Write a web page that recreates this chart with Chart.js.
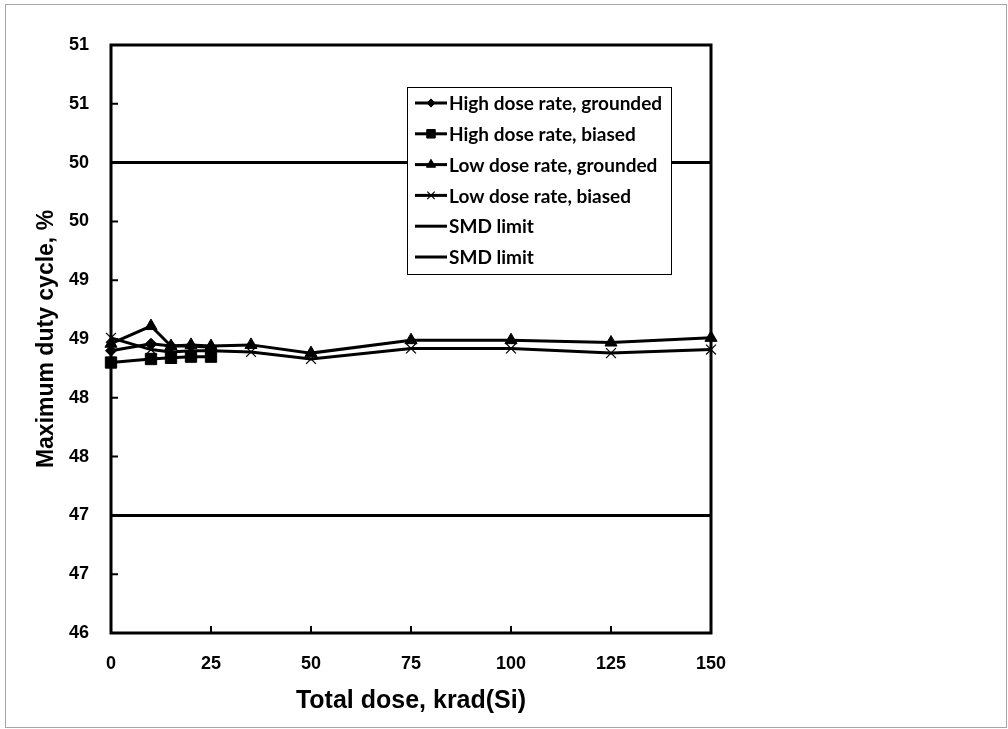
<!DOCTYPE html>
<html lang="en">
<head>
    <meta charset="UTF-8">
    <title>Maximum duty cycle vs total dose</title>
    <script src="https://cdn.jsdelivr.net/npm/chart.js"></script>
    <style>
        body { margin: 0; background: #fff; }
        #marco { position: absolute; left: 5px; top: 4px; width: 1000px; height: 722px; border: 1px solid #a6a6a6; }
        canvas { position: absolute; left: 0; top: 0; }
    </style>
</head>
<body>
    <div id="marco"></div>
    <canvas id="grafico" width="1008" height="729"></canvas>

    <script>
        // Dosis (krad(Si)) de cada serie
        const dosisAlta = [0, 10, 15, 20, 25];
        const dosisBaja = [0, 10, 15, 20, 25, 35, 50, 75, 100, 125, 150];

        // Ciclo de trabajo máximo (%)
        const altaAterrizado = [48.40, 48.46, 48.44, 48.44, 48.43];
        const altaPolarizado = [48.30, 48.33, 48.34, 48.35, 48.35];
        const bajaAterrizado = [48.46, 48.61, 48.44, 48.45, 48.44, 48.45, 48.38, 48.49, 48.49, 48.47, 48.51];
        const bajaPolarizado = [48.51, 48.41, 48.39, 48.40, 48.40, 48.39, 48.33, 48.42, 48.42, 48.38, 48.41];

        // Límites SMD
        const limiteInferior = 47;
        const limiteSuperior = 50;
        const rangoDosis = [0, 150];

        // Etiquetas de los ejes (redondeadas a entero como en la hoja original)
        const etiquetasY = ['46', '47', '47', '48', '48', '49', '49', '50', '50', '51', '51'];
        const etiquetasX = ['0', '25', '50', '75', '100', '125', '150'];

        const puntos = (xs, ys) => xs.map((x, i) => ({ x: x, y: ys[i] }));
        const linea = v => rangoDosis.map(x => ({ x: x, y: v }));

        function serie(label, data, estilo, radio, borde) {
            return {
                label: label,
                data: data,
                borderColor: '#000',
                backgroundColor: '#000',
                borderWidth: 3,
                pointStyle: estilo,
                pointRadius: radio,
                pointBorderWidth: borde,
                pointBorderColor: '#000',
                pointBackgroundColor: '#000',
                tension: 0,
                clip: false
            };
        }

        // Marco del área, marcas hacia dentro y leyenda
        const marcoYLeyenda = {
            id: 'marcoYLeyenda',
            afterDatasetsDraw(chart) {
                const ctx = chart.ctx;
                const a = chart.chartArea;
                const ex = chart.scales.x;
                const ey = chart.scales.y;
                ctx.save();
                ctx.strokeStyle = '#000';
                ctx.fillStyle = '#000';
                ctx.lineWidth = 3;
                ctx.strokeRect(a.left, a.top, a.right - a.left, a.bottom - a.top);
                ctx.lineWidth = 2;
                ctx.beginPath();
                ey.ticks.forEach(t => {
                    const py = ey.getPixelForValue(t.value);
                    ctx.moveTo(a.left, py);
                    ctx.lineTo(a.left + 7, py);
                });
                ex.ticks.forEach(t => {
                    const px = ex.getPixelForValue(t.value);
                    ctx.moveTo(px, a.bottom);
                    ctx.lineTo(px, a.bottom - 7);
                });
                ctx.stroke();

                // Leyenda
                const bx = 407, by = 87, bw = 264, bh = 187;
                ctx.fillStyle = '#fff';
                ctx.fillRect(bx, by, bw, bh);
                ctx.strokeStyle = '#000';
                ctx.lineWidth = 1;
                ctx.strokeRect(bx + 0.5, by + 0.5, bw, bh);
                ctx.font = "bold 19px 'Lato', 'Open Sans', sans-serif";
                ctx.textBaseline = 'middle';
                ctx.textAlign = 'left';
                chart.data.datasets.forEach((ds, i) => {
                    const cy = 103 + i * 30.8;
                    ctx.strokeStyle = '#000';
                    ctx.fillStyle = '#000';
                    ctx.lineWidth = ds.borderWidth;
                    ctx.beginPath();
                    ctx.moveTo(415, cy);
                    ctx.lineTo(447, cy);
                    ctx.stroke();
                    if (ds.pointRadius > 0) {
                        ctx.lineWidth = ds.pointBorderWidth;
                        Chart.helpers.drawPoint(ctx, {
                            pointStyle: ds.pointStyle,
                            radius: ds.pointRadius * 0.75,
                            borderWidth: ds.pointBorderWidth,
                            rotation: 0
                        }, 431, cy);
                    }
                    ctx.fillStyle = '#000';
                    ctx.fillText(ds.label, 449, cy + 1);
                });
                ctx.restore();
            }
        };

        Chart.defaults.font.family = "'Liberation Sans', Arial, sans-serif";
        Chart.defaults.color = '#000';

        const ctx = document.getElementById('grafico').getContext('2d');
        const chart = new Chart(ctx, {
            type: 'line',
            data: {
                datasets: [
                    serie('High dose rate, grounded', puntos(dosisAlta, altaAterrizado), 'rectRot', 5.5, 1),
                    serie('High dose rate, biased', puntos(dosisAlta, altaPolarizado), 'rect', 8, 1),
                    serie('Low dose rate, grounded', puntos(dosisBaja, bajaAterrizado), 'triangle', 7, 1),
                    serie('Low dose rate, biased', puntos(dosisBaja, bajaPolarizado), 'crossRot', 7, 1.2),
                    serie('SMD limit', linea(limiteInferior), false, 0, 0),
                    serie('SMD limit', linea(limiteSuperior), false, 0, 0)
                ]
            },
            options: {
                responsive: false,
                animation: false,
                layout: { padding: { left: 0, top: 45, right: 297, bottom: 0 } },
                plugins: {
                    legend: { display: false },
                    tooltip: { enabled: false }
                },
                scales: {
                    x: {
                        type: 'linear',
                        min: 0,
                        max: 150,
                        grid: { display: false, drawTicks: false },
                        border: { display: false },
                        ticks: {
                            stepSize: 25,
                            padding: 20,
                            maxRotation: 0,
                            font: { size: 18, weight: 'bold' },
                            callback: (v, i) => etiquetasX[i]
                        },
                        title: {
                            display: true,
                            text: 'Total dose, krad(Si)',
                            font: { size: 25, weight: 'bold' },
                            padding: { top: 0, bottom: 13 }
                        },
                        afterFit: s => { s.height = 96; }
                    },
                    y: {
                        min: 46,
                        max: 51,
                        grid: { display: false, drawTicks: false },
                        border: { display: false },
                        ticks: {
                            stepSize: 0.5,
                            padding: 22,
                            font: { size: 18, weight: 'bold' },
                            callback: (v, i) => etiquetasY[i]
                        },
                        title: {
                            display: true,
                            text: 'Maximum duty cycle, %',
                            font: { size: 23, weight: 'bold' },
                            padding: { top: 33, bottom: 0 }
                        },
                        afterFit: s => { s.width = 111; }
                    }
                }
            },
            plugins: [marcoYLeyenda]
        });
    </script>
</body>
</html>
